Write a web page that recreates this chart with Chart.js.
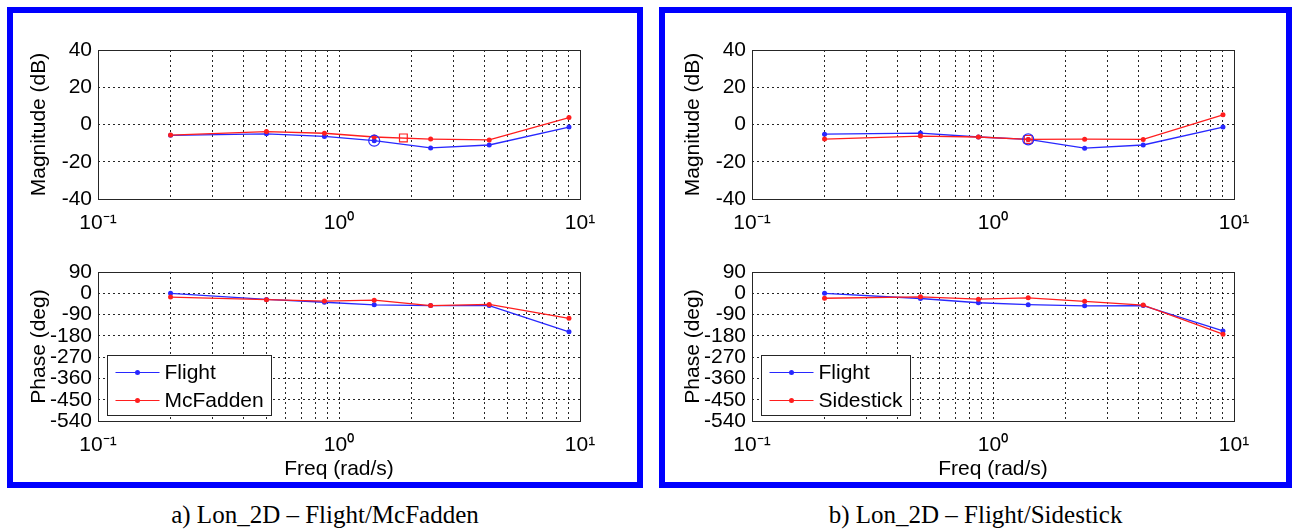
<!DOCTYPE html>
<html>
<head>
<meta charset="utf-8">
<script src="https://cdn.jsdelivr.net/npm/chart.js@4.4.0/dist/chart.umd.min.js"></script>
<style>
    html, body { margin: 0; padding: 0; background: #fff; }
    body { width: 1295px; height: 529px; position: relative; overflow: hidden; }
    .frame { position: absolute; top: 7px; height: 481px; border: 6px solid #0000ff; box-sizing: border-box; }
    .plot { position: absolute; }
    .caption {
        position: absolute; top: 500px; height: 30px; line-height: 30px;
        font-family: "Liberation Serif", "Times New Roman", serif; font-size: 25px;
        text-align: center; color: #000; white-space: nowrap;
    }
</style>
</head>
<body>
<div class="frame" style="left:7px;width:636px"></div>
<div class="frame" style="left:659px;width:633px"></div>

<canvas id="magA" class="plot" width="624" height="236" style="left:14px;top:14px"></canvas>
<canvas id="phaseA" class="plot" width="624" height="230" style="left:14px;top:252px"></canvas>
<canvas id="magB" class="plot" width="618" height="236" style="left:668px;top:14px"></canvas>
<canvas id="phaseB" class="plot" width="618" height="230" style="left:668px;top:252px"></canvas>

<div class="caption" style="left:7px;width:636px">a) Lon_2D – Flight/McFadden</div>
<div class="caption" style="left:659px;width:633px">b) Lon_2D – Flight/Sidestick</div>

<script>
// frequencies (rad/s) shared by every curve
const freqs = [0.2, 0.5, 0.87, 1.4, 2.4, 4.2, 9.0];

// a) Flight / McFadden
const magFlightA = [-5.8, -5.0, -6.4, -8.7, -12.6, -11.0, -1.4];
const magMcFaddenA = [-5.7, -3.8, -4.7, -6.7, -7.8, -8.3, 3.7];
const phaseFlightA = [0, -26, -38, -49, -52, -52, -163];
const phaseMcFaddenA = [-16, -27, -33, -29, -52, -47, -106];
const circleA = [1.4, -8.7];   // open circle on Flight
const squareA = [1.85, -7.2];  // open square on McFadden

// b) Flight / Sidestick
const magFlightB = [-5.2, -4.6, -6.7, -8.0, -12.7, -11.0, -1.4];
const magSidestickB = [-7.8, -6.2, -6.7, -8.0, -7.9, -8.0, 5.2];
const phaseFlightB = [0, -22, -40, -48, -53, -52, -159];
const phaseSidestickB = [-21, -15, -25, -19, -34, -50, -173];
const circleB = [1.4, -8.0];
const squareB = [1.4, -8.0];

// axes
const xTickValues = [0.1, 0.2, 0.3, 0.4, 0.5, 0.6, 0.7, 0.8, 0.9, 1, 2, 3, 4, 5, 6, 7, 8, 9, 10];
const xLabelValues = [0.1, 1, 10];
const xTickLabels = ['10⁻¹', '10⁰', '10¹'];
const magTicks = [-40, -20, 0, 20, 40];
const phaseTicks = [-540, -450, -360, -270, -180, -90, 0, 90];

const BLUE = 'rgb(40, 40, 255)';
const RED = 'rgb(255, 30, 30)';
const FONT = '"Liberation Sans", Arial, sans-serif';
const FONT_SIZE = 21;

Chart.defaults.font.family = FONT;
Chart.defaults.font.size = FONT_SIZE;
Chart.defaults.color = '#000';

// plot frame around the chart area (MATLAB box)
const boxPlugin = {
    id: 'box',
    afterDraw(chart) {
        const { ctx, chartArea: a } = chart;
        ctx.save();
        ctx.strokeStyle = '#262626';
        ctx.lineWidth = 1;
        ctx.strokeRect(Math.round(a.left) + 0.5, Math.round(a.top) + 0.5,
            Math.round(a.right - a.left), Math.round(a.bottom - a.top));
        ctx.restore();
    }
};

// boxed legend in the lower left corner of the phase plots
const legendPlugin = {
    id: 'boxLegend',
    afterDraw(chart) {
        const { ctx, chartArea: a } = chart;
        const items = chart.data.datasets.slice(0, 2);
        ctx.save();
        ctx.font = FONT_SIZE + 'px ' + FONT;
        const textW = Math.max(...items.map(d => ctx.measureText(d.label).width));
        const left = Math.round(a.left + 9) + 0.5;
        const h = 60;
        const top = Math.round(a.bottom - 6 - h) + 0.5;
        const w = Math.round(57 + textW + 8);
        ctx.fillStyle = '#fff';
        ctx.fillRect(left, top, w, h);
        ctx.strokeStyle = '#262626';
        ctx.lineWidth = 1;
        ctx.strokeRect(left, top, w, h);
        items.forEach((d, i) => {
            const y = top + 17 + i * 28;
            ctx.strokeStyle = d.borderColor;
            ctx.lineWidth = 1.2;
            ctx.beginPath();
            ctx.moveTo(left + 8, y);
            ctx.lineTo(left + 52, y);
            ctx.stroke();
            ctx.fillStyle = d.borderColor;
            ctx.beginPath();
            ctx.arc(left + 30, y, 2.5, 0, Math.PI * 2);
            ctx.fill();
            ctx.fillStyle = '#000';
            ctx.textBaseline = 'middle';
            ctx.textAlign = 'left';
            ctx.fillText(d.label, left + 57, y + 1);
        });
        ctx.restore();
    }
};

function series(label, values, color, order) {
    return {
        label: label,
        data: freqs.map((f, i) => ({ x: f, y: values[i] })),
        borderColor: color,
        backgroundColor: color,
        borderWidth: 1.3,
        pointRadius: 2.5,
        pointHoverRadius: 2.5,
        pointBorderWidth: 0,
        tension: 0,
        order: order
    };
}

function marker(point, color, style) {
    return {
        label: '',
        data: [{ x: point[0], y: point[1] }],
        showLine: false,
        pointStyle: style,
        pointRadius: 5.5,
        pointHoverRadius: 5.5,
        borderColor: color,
        backgroundColor: 'rgba(0,0,0,0)',
        borderWidth: 1.2,
        order: 0
    };
}

function bodeOptions(yTicks, yTitle, top, right, xAxisHeight, xTitle) {
    return {
        responsive: false,
        animation: false,
        devicePixelRatio: 1,
        events: [],
        layout: { padding: { left: 0, right: right, top: top, bottom: 0 } },
        plugins: { legend: { display: false }, tooltip: { enabled: false } },
        scales: {
            x: {
                type: 'logarithmic',
                min: 0.1,
                max: 10,
                afterBuildTicks: s => { s.ticks = xTickValues.map(v => ({ value: v })); },
                afterFit: s => { s.height = xAxisHeight; },
                ticks: {
                    autoSkip: false,
                    maxRotation: 0,
                    padding: 12,
                    callback: v => {
                        const i = xLabelValues.indexOf(v);
                        return i >= 0 ? xTickLabels[i] : '';
                    }
                },
                grid: { color: 'rgba(0,0,0,0.85)', lineWidth: 1, drawTicks: false },
                border: { display: false, dash: [2, 3] },
                title: { display: !!xTitle, text: xTitle || '', padding: { top: 0, bottom: 0 } }
            },
            y: {
                type: 'linear',
                min: yTicks[0],
                max: yTicks[yTicks.length - 1],
                afterBuildTicks: s => { s.ticks = yTicks.map(v => ({ value: v })); },
                afterFit: s => { s.width = 84; },
                ticks: { autoSkip: false, padding: 6 },
                grid: { color: 'rgba(0,0,0,0.85)', lineWidth: 1, drawTicks: false },
                border: { display: false, dash: [2, 3] },
                title: { display: true, text: yTitle, padding: { top: 13, bottom: 0 } }
            }
        }
    };
}

function magChart(id, flight, other, otherLabel, circle, square) {
    const canvas = document.getElementById(id);
    new Chart(canvas, {
        type: 'line',
        data: {
            datasets: [
                series('Flight', flight, BLUE, 2),
                series(otherLabel, other, RED, 1),
                marker(circle, BLUE, 'circle'),
                marker(square, RED, 'rect')
            ]
        },
        options: bodeOptions(magTicks, 'Magnitude (dB)', 36, canvas.width - 566, 51, null),
        plugins: [boxPlugin]
    });
}

function phaseChart(id, flight, other, otherLabel) {
    const canvas = document.getElementById(id);
    new Chart(canvas, {
        type: 'line',
        data: {
            datasets: [
                series('Flight', flight, BLUE, 2),
                series(otherLabel, other, RED, 1)
            ]
        },
        options: bodeOptions(phaseTicks, 'Phase (deg)', 20, canvas.width - 566, 61, 'Freq (rad/s)'),
        plugins: [boxPlugin, legendPlugin]
    });
}

magChart('magA', magFlightA, magMcFaddenA, 'McFadden', circleA, squareA);
phaseChart('phaseA', phaseFlightA, phaseMcFaddenA, 'McFadden');
magChart('magB', magFlightB, magSidestickB, 'Sidestick', circleB, squareB);
phaseChart('phaseB', phaseFlightB, phaseSidestickB, 'Sidestick');
</script>
</body>
</html>
